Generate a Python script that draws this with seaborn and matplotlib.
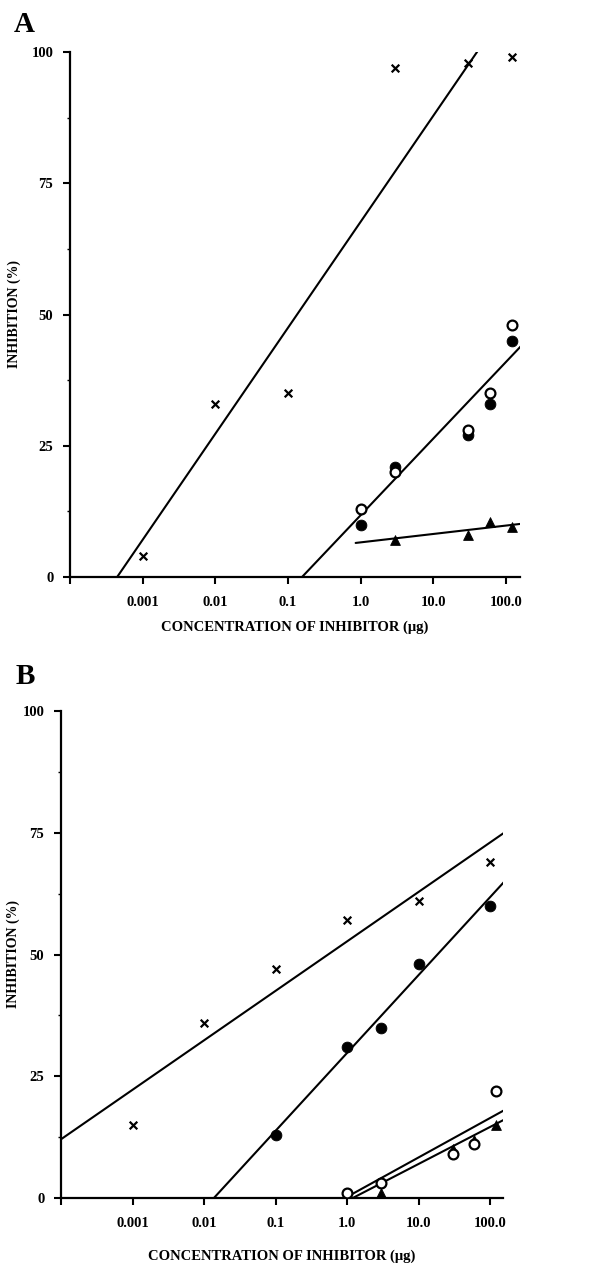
import numpy as np
import pandas as pd
import matplotlib
matplotlib.use("Agg")
import matplotlib.pyplot as plt
import seaborn as sns

# ---- panel A data ----
a_cross_x = [0.001, 0.01, 0.1, 3, 30, 120]
a_cross_y = [4, 33, 35, 97, 98, 99]
a_filled_x = [1, 3, 30, 60, 120]
a_filled_y = [10, 21, 27, 33, 45]
a_open_x = [1, 3, 30, 60, 120]
a_open_y = [13, 20, 28, 35, 48]
a_tri_x = [3, 30, 60, 120]
a_tri_y = [7, 8, 10.5, 9.5]
# fitted lines: y = icpt + slope * log10(x), drawn from x_from to x_to
a_fit_slope = [20.2, 14.6, 1.6]
a_fit_icpt = [67.7, 11.8, 6.6]
a_fit_from = [0.00045, 0.155, 0.85]
a_fit_to = [40, 160, 160]

# ---- panel B data ----
b_cross_x = [0.001, 0.01, 0.1, 1, 10, 100]
b_cross_y = [15, 36, 47, 57, 61, 69]
b_filled_x = [0.1, 1, 3, 10, 100]
b_filled_y = [13, 31, 35, 48, 60]
b_open_x = [1, 3, 30, 60, 120]
b_open_y = [1, 3, 9, 11, 22]
b_tri_x = [3, 30, 60, 120]
b_tri_y = [1, 10, 12, 15]
b_fit_slope = [10.16, 16.0, 8.1, 7.6]
b_fit_icpt = [52.7, 29.8, 0.24, -0.6]
b_fit_from = [0.0001, 0.0138, 0.93, 1.2]
b_fit_to = [160, 160, 160, 160]

xtick_vals = [0.0001, 0.001, 0.01, 0.1, 1, 10, 100]
xtick_labels = ["", "0.001", "0.01", "0.1", "1.0", "10.0", "100.0"]
ytick_vals = [0, 25, 50, 75, 100]

sns.set_style("ticks", {"axes.edgecolor": "black", "text.color": "black",
                        "xtick.color": "black", "ytick.color": "black",
                        "axes.labelcolor": "black"})
plt.rcParams["font.family"] = ["Liberation Serif", "DejaVu Serif"]
plt.rcParams["font.weight"] = "bold"


def draw_panel(ax, series, fits, xmax, letter, letter_xy, ylab_x, xlabelpad):
    for xs, ys, kind in series:
        if kind == "x":
            sns.scatterplot(x=xs, y=ys, marker="x", s=30, color="black",
                            linewidth=1.6, ax=ax, zorder=3)
        elif kind == "filled":
            sns.scatterplot(x=xs, y=ys, marker="o", s=60, color="black",
                            edgecolor="black", ax=ax, zorder=3)
        elif kind == "open":
            sns.scatterplot(x=xs, y=ys, marker="o", s=50, facecolor="white",
                            edgecolor="black", linewidth=1.6, ax=ax, zorder=4)
        else:
            sns.scatterplot(x=xs, y=ys, marker="^", s=50, color="black",
                            edgecolor="black", ax=ax, zorder=3)

    for slope, icpt, lo, hi in zip(*fits):
        xs = np.array([lo, hi])
        ys = icpt + slope * np.log10(xs)
        sns.lineplot(x=xs, y=ys, color="black", linewidth=1.5, ax=ax,
                     zorder=2)

    ax.set_xscale("log")
    ax.set_xlim(1e-4, xmax)
    ax.set_ylim(0, 100)
    ax.set_xticks(xtick_vals)
    ax.set_xticklabels(xtick_labels)
    ax.xaxis.set_minor_locator(matplotlib.ticker.NullLocator())
    ax.set_yticks(ytick_vals)
    ax.set_yticks([12.5, 37.5, 62.5, 87.5], minor=True)
    ax.tick_params(axis="both", which="major", direction="out", length=5,
                   width=1.5, labelsize=10.5)
    ax.tick_params(axis="x", pad=9)
    ax.tick_params(axis="y", pad=7)
    ax.tick_params(axis="y", which="minor", length=2, width=1)
    for lab in ax.get_xticklabels() + ax.get_yticklabels():
        lab.set_fontweight("bold")
    for side in ["top", "right"]:
        ax.spines[side].set_visible(False)
    for side in ["left", "bottom"]:
        ax.spines[side].set_linewidth(1.6)
    ax.set_xlabel("CONCENTRATION OF INHIBITOR (\u03bcg)", fontsize=10.5,
                  fontweight="bold", labelpad=xlabelpad)
    ax.set_ylabel("INHIBITION (%)", fontsize=10, fontweight="bold")
    ax.yaxis.set_label_coords(ylab_x, 0.5)
    ax.text(letter_xy[0], letter_xy[1], letter, transform=ax.transAxes,
            fontsize=21, fontweight="bold", ha="left", va="center")


fig = plt.figure(figsize=(6.16, 12.63), dpi=100)
ax_a = fig.add_axes([70 / 616, 1 - 577 / 1263, 450 / 616, 525 / 1263])
ax_b = fig.add_axes([61 / 616, 1 - 1198 / 1263, 442 / 616, 487 / 1263])

draw_panel(ax_a,
           [(a_cross_x, a_cross_y, "x"), (a_filled_x, a_filled_y, "filled"),
            (a_open_x, a_open_y, "open"), (a_tri_x, a_tri_y, "tri")],
           (a_fit_slope, a_fit_icpt, a_fit_from, a_fit_to),
           155, "A", (-0.125, 1.052), -0.108, 8)
draw_panel(ax_b,
           [(b_cross_x, b_cross_y, "x"), (b_filled_x, b_filled_y, "filled"),
            (b_open_x, b_open_y, "open"), (b_tri_x, b_tri_y, "tri")],
           (b_fit_slope, b_fit_icpt, b_fit_from, b_fit_to),
           151, "B", (-0.102, 1.07), -0.092, 14)

fig.savefig("out.png", dpi=100, facecolor="white")
